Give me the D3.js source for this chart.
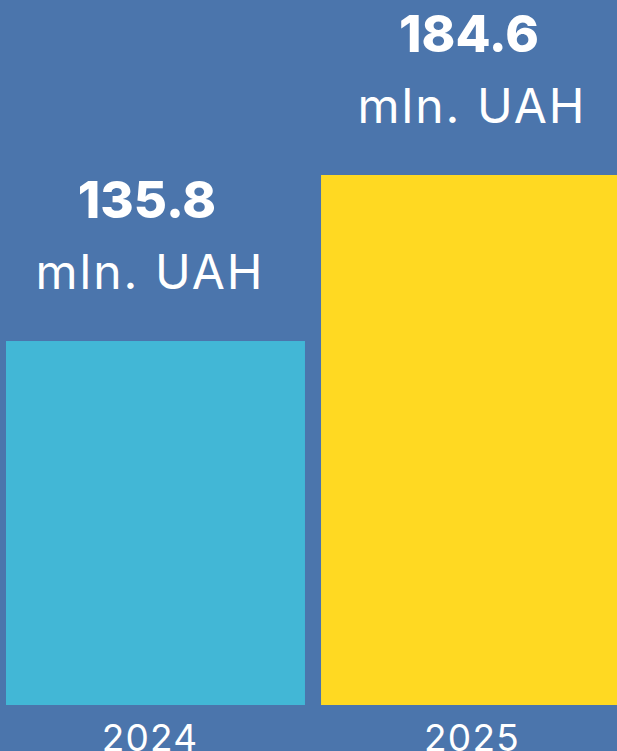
<!DOCTYPE html>
<html>
<head>
<meta charset="utf-8">
<script src="https://cdn.jsdelivr.net/npm/d3@7"></script>
<style>
  html, body { margin: 0; padding: 0; background: #4b75ac; }
  svg { display: block; }
  text { font-family: Inter, "Noto Sans", sans-serif; fill: #ffffff; }
</style>
</head>
<body>
<div id="chart"></div>
<script>
// data
var years = ["2024", "2025"];
var values = [135.8, 184.6];
var unitLabel = "mln. UAH";
var barColors = ["#42b7d6", "#ffd922"];

var width = 617,
    height = 751;

var svg = d3.select("#chart")
    .append("svg")
    .attr("width", width)
    .attr("height", height);

svg.append("rect")
    .attr("width", width)
    .attr("height", height)
    .attr("fill", "#4b75ac");

var x = d3.scaleBand()
    .domain(years)
    .range([6, 620])
    .paddingInner(0.051);

// labels sit on a slightly wider grid than the bars
var xLabel = d3.scaleBand()
    .domain(years)
    .range([-11, 633]);

// baseline is not zero in the original picture
var y = d3.scaleLinear()
    .domain([28.8, 184.6])
    .range([705, 175]);

var rows = years.map(function (yr, i) {
    return { year: yr, value: values[i], color: barColors[i] };
});

var groups = svg.selectAll("g.bar")
    .data(rows)
    .enter()
    .append("g")
    .attr("class", "bar");

groups.append("rect")
    .attr("x", (d) => x(d.year))
    .attr("y", (d) => y(d.value))
    .attr("width", x.bandwidth())
    .attr("height", (d) => y.range()[0] - y(d.value))
    .attr("fill", (d) => d.color);

var labelX = (d) => xLabel(d.year) + xLabel.bandwidth() / 2;

// value labels above bars
groups.append("text")
    .attr("x", (d) => labelX(d) - 3)
    .attr("y", (d) => y(d.value) - 123)
    .attr("text-anchor", "middle")
    .attr("font-size", 51)
    .attr("font-weight", 800)
    .text((d) => d.value.toFixed(1));

groups.append("text")
    .attr("x", labelX)
    .attr("y", (d) => y(d.value) - 52)
    .attr("text-anchor", "middle")
    .attr("font-size", 48)
    .attr("letter-spacing", 2)
    .text(unitLabel);

// year labels below
groups.append("text")
    .attr("x", labelX)
    .attr("y", 751)
    .attr("text-anchor", "middle")
    .attr("font-size", 37)
    .attr("letter-spacing", 1.2)
    .text((d) => d.year);
</script>
</body>
</html>
